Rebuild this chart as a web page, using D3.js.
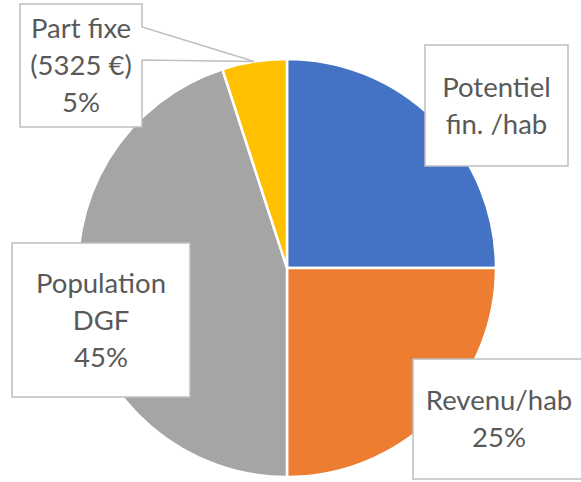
<!DOCTYPE html>
<html>
<head>
<meta charset="utf-8">
<script src="https://cdn.jsdelivr.net/npm/d3@7"></script>
<style>
    body { margin: 0; background: #fff; }
    svg { display: block; }
    text { font-family: Lato, "Liberation Sans", sans-serif; fill: #595959; }
</style>
</head>
<body>
<div id="chart"></div>
<script>
var ctx = {
    w: 581,
    h: 482
};

// chart data
var nameLines = [["Potentiel", "fin. /hab"], ["Revenu/hab"], ["Population", "DGF"], ["Part fixe", "(5325 €)"]];
var shares = [25, 25, 45, 5];
var showPct = [false, true, true, true];
var colors = ["#4472C4", "#ED7D31", "#A5A5A5", "#FFC000"];

// label box layout (manually placed, like in the original)
var boxes = [
    { cx: 496.5, cy: 105.5, w: 143, h: 121 },
    { cx: 499, cy: 419, w: 172, h: 120 },
    { cx: 101, cy: 320, w: 178, h: 154 },
    { cx: 81, cy: 65.5, w: 122, h: 123, leader: [23, 56] }
];

var createChart = function (svg) {
    var cx = 287, cy = 268, r = 209;

    var pie = d3.pie().sort(null).value(function (d) { return d; });
    var arcs = pie(shares);
    var arc = d3.arc().innerRadius(0).outerRadius(r);

    var g = svg.append("g").attr("transform", "translate(" + cx + "," + cy + ")");
    g.selectAll("path")
        .data(arcs)
        .enter().append("path")
        .attr("d", arc)
        .style("fill", function (d, i) { return colors[i]; })
        .style("stroke", "#fff")
        .style("stroke-width", 2.5);

    var lineH = 37;
    var labels = svg.selectAll("g.label")
        .data(arcs)
        .enter().append("g")
        .attr("class", "label");

    labels.append("path")
        .attr("d", function (d, i) {
            var b = boxes[i];
            var x0 = b.cx - b.w / 2, x1 = b.cx + b.w / 2;
            var y0 = b.cy - b.h / 2, y1 = b.cy + b.h / 2;
            var p = d3.path();
            p.moveTo(x0, y0);
            p.lineTo(x1, y0);
            if (b.leader) {
                // pointer to the middle of the slice's outer edge
                var mid = (d.startAngle + d.endAngle) / 2;
                var tx = cx + r * Math.sin(mid), ty = cy - r * Math.cos(mid);
                p.lineTo(x1, y0 + b.leader[0]);
                p.lineTo(tx, ty);
                p.lineTo(x1, y0 + b.leader[1]);
            }
            p.lineTo(x1, y1);
            p.lineTo(x0, y1);
            p.closePath();
            return p.toString();
        })
        .style("fill", "#fff")
        .style("stroke", "#BFBFBF")
        .style("stroke-width", 1.5);

    labels.each(function (d, i) {
        var lines = nameLines[i].slice();
        if (showPct[i]) lines.push(d3.format(".0f")(d.data) + "%");
        var b = boxes[i];
        var top = b.cy - (lines.length - 1) * lineH / 2;
        d3.select(this).selectAll("text")
            .data(lines)
            .enter().append("text")
            .attr("x", b.cx)
            .attr("y", function (t, k) { return top + k * lineH; })
            .attr("dy", "0.35em")
            .attr("text-anchor", "middle")
            .style("font-size", "27.5px")
            .text(function (t) { return t; });
    });
};

var createViz = function () {
    var svg = d3.select("#chart").append("svg")
        .attr("width", ctx.w)
        .attr("height", ctx.h);
    createChart(svg);
};

createViz();
</script>
</body>
</html>
